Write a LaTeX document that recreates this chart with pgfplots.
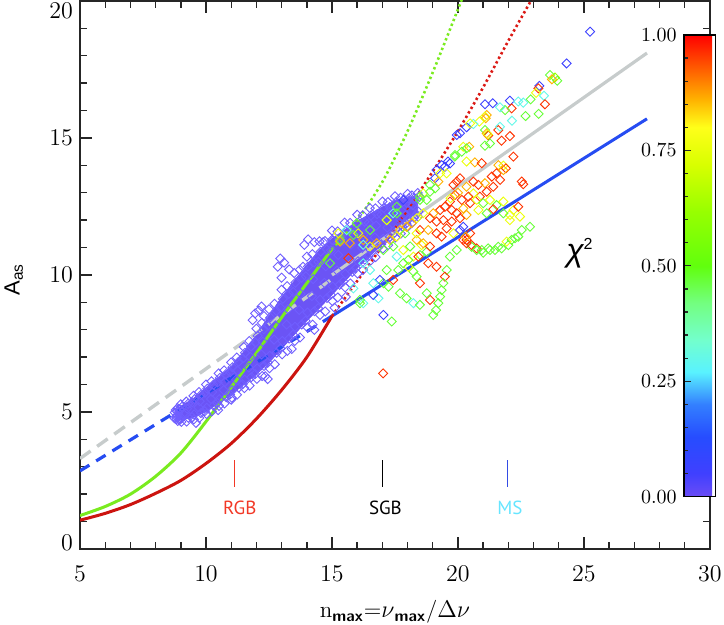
\documentclass[border=0pt]{standalone}
\usepackage{pgfplots}
\pgfplotsset{compat=1.18}
\usepackage{fontspec}
\newfontfamily\labfont{PT Sans}
\newfontfamily\lsans{Liberation Sans}
\usetikzlibrary{calc}
\definecolor{cgrey}{rgb}{0.78,0.80,0.80}
\definecolor{cblue}{rgb}{0.15,0.30,0.95}
\definecolor{cgreen}{rgb}{0.48,0.92,0.12}
\definecolor{cred}{rgb}{0.80,0.08,0.06}
\definecolor{cdred}{rgb}{0.86,0.10,0.08}
\definecolor{cloud}{rgb}{0.42,0.33,0.96}
\definecolor{cloudmk}{rgb}{0.44,0.37,1.00}
\definecolor{rgbcol}{rgb}{0.95,0.22,0.15}
\definecolor{mscol}{rgb}{0.40,0.90,1.00}
\definecolor{msline}{rgb}{0.20,0.30,0.90}
\begin{document}
\begin{tikzpicture}
\begin{axis}[
  width=315pt, height=274pt, scale only axis,
  xmin=5, xmax=30, ymin=0, ymax=20,
  xtick={5,10,...,30}, ytick={0,5,...,20},
  yticklabels={\rule[-6pt]{0pt}{6pt}0,5,10,15,\rule{0pt}{18pt}20},
  minor x tick num=4, minor y tick num=4,
  tick align=inside, major tick length=6pt, minor tick length=3.5pt,
  axis line style={black!85, line width=0.9pt},
  every tick/.style={black!85, line width=0.7pt},
  tick label style={font=\fontsize{12}{13}\selectfont},
  xticklabel style={yshift=-5pt},
  xlabel={n\textsubscript{\sffamily\bfseries max}=$\nu$\textsubscript{\sffamily\bfseries max}/$\Delta\nu$},
  xlabel style={at={(axis description cs:0.5,0)}, anchor=center, yshift=-31.5pt, font=\fontsize{11.5}{13}\selectfont},
  ylabel={\lsans A\textsubscript{as}},
  ylabel style={at={(axis description cs:-0.105,0.492)}, anchor=center, font=\fontsize{11}{13}\selectfont},
  colormap={idl}{rgb(0pt)=(0.42,0.30,0.96); rgb(5pt)=(0.25,0.25,1); rgb(13pt)=(0.15,0.30,1); rgb(20pt)=(0.20,0.50,1); rgb(27pt)=(0.35,0.95,1); rgb(34pt)=(0.45,1,0.80); rgb(42pt)=(0.45,1,0.50); rgb(50pt)=(0.38,1,0.05); rgb(62pt)=(0.60,1,0); rgb(72pt)=(0.85,1,0); rgb(80pt)=(1,1,0.10); rgb(86pt)=(1,0.70,0); rgb(92pt)=(1,0.40,0); rgb(100pt)=(1,0,0)},
  point meta min=0, point meta max=1,
  colorbar,
  colorbar style={
    at={($(parent axis.south west)+(293.35pt,26.15pt)$)}, anchor=south west,
    width=15.8pt, height=230.85pt, scale only axis,
    ytick={0,0.25,0.5,0.75,1},
    minor ytick={0.05,0.1,0.15,0.2,0.3,0.35,0.4,0.45,0.55,0.6,0.65,0.7,0.8,0.85,0.9,0.95},
    yticklabel pos=left, ytick pos=left,
    tick align=inside, major tick length=3.5pt, minor tick length=2pt,
    axis line style={black, line width=0.8pt},
    every tick/.style={black!85, line width=0.6pt},
    yticklabel style={font=\fontsize{10}{12}\selectfont, /pgf/number format/.cd, fixed, fixed zerofill, precision=2},
  },
]
% dense core of the cloud
\addplot[fill=cloud, draw=cloud, line width=0.4pt] coordinates {
(8.8,5.03)(9.0,5.21)(9.5,5.49)(10,5.88)(10.5,6.27)(11,6.66)(11.5,7.2)(12,7.82)(12.5,8.5)(13,9.19)(13.5,9.78)(14,10.37)(14.5,10.91)(15,11.32)(15.5,11.64)(16,11.95)(16.5,12.22)(17,12.48)(17.5,12.7)(18,12.82)(18.4,12.89)
(18.4,12.21)(18,11.88)(17.5,11.5)(17,11.12)(16.5,10.69)(16,10.25)(15.5,9.77)(15,9.28)(14.5,8.79)(14,8.33)(13.5,7.82)(13,7.31)(12.5,6.8)(12,6.38)(11.5,6.0)(11,5.64)(10.5,5.33)(10,5.02)(9.5,4.81)(9.0,4.7)(8.8,4.77)
} -- cycle;
% cloud points
\addplot[only marks, mark=square, mark size=1.6pt, mark options={rotate=45, draw=cloudmk, line width=0.45pt}] table {
x y
8.80 5.07
8.85 5.02
8.76 4.98
8.83 4.81
8.75 4.77
8.82 4.74
8.87 5.14
8.94 5.08
8.90 4.97
8.85 4.86
8.95 4.76
8.88 4.67
9.00 5.28
9.05 5.19
8.96 5.10
9.03 4.77
8.95 4.70
9.02 4.64
9.22 5.38
9.29 5.30
9.25 5.12
9.20 4.95
9.30 4.79
9.23 4.65
9.50 5.59
9.55 5.47
9.46 5.35
9.53 4.91
9.45 4.81
9.52 4.73
9.72 5.73
9.79 5.62
9.75 5.39
9.70 5.17
9.80 4.96
9.73 4.78
10.00 6.00
10.05 5.85
9.96 5.70
10.03 5.15
9.95 5.03
10.02 4.93
10.22 6.12
10.29 5.99
10.25 5.73
10.20 5.47
10.30 5.23
10.23 5.02
10.50 6.41
10.55 6.24
10.46 6.08
10.53 5.47
10.45 5.33
10.52 5.22
10.72 6.52
10.79 6.38
10.75 6.09
10.70 5.80
10.80 5.54
10.73 5.31
11.00 6.81
11.05 6.63
10.96 6.45
11.03 5.79
10.95 5.64
11.02 5.52
11.22 6.99
11.29 6.83
11.25 6.51
11.20 6.18
11.30 5.89
11.23 5.63
11.50 7.37
11.55 7.16
11.46 6.95
11.53 6.18
11.45 6.01
11.52 5.87
11.72 7.59
11.79 7.39
11.75 7.01
11.70 6.62
11.80 6.27
11.73 5.96
12.00 8.04
12.05 7.78
11.96 7.53
12.03 6.59
11.95 6.38
12.02 6.21
12.22 8.25
12.29 8.02
12.25 7.56
12.20 7.10
12.30 6.68
12.23 6.31
12.50 8.75
12.55 8.45
12.46 8.15
12.53 7.05
12.45 6.80
12.52 6.60
12.72 8.95
12.79 8.69
12.75 8.16
12.70 7.64
12.80 7.16
12.73 6.74
13.00 9.46
13.05 9.13
12.96 8.80
13.03 7.59
12.95 7.32
13.02 7.10
13.22 9.59
13.29 9.31
13.25 8.75
13.20 8.19
13.30 7.68
13.23 7.23
13.50 10.07
13.55 9.72
13.46 9.38
13.53 8.11
13.45 7.82
13.52 7.59
13.72 10.19
13.79 9.90
13.75 9.31
13.70 8.72
13.80 8.19
13.73 7.72
14.00 10.67
14.05 10.31
13.96 9.95
14.03 8.63
13.95 8.33
14.02 8.09
14.22 10.76
14.29 10.46
14.25 9.85
14.20 9.23
14.30 8.68
14.23 8.19
14.50 11.23
14.55 10.85
14.46 10.48
14.53 9.10
14.45 8.79
14.52 8.54
14.72 11.24
14.79 10.93
14.75 10.32
14.70 9.71
14.80 9.16
14.73 8.67
15.00 11.62
15.05 11.26
14.96 10.90
15.03 9.58
14.95 9.28
15.02 9.04
15.22 11.59
15.29 11.31
15.25 10.73
15.20 10.16
15.30 9.64
15.23 9.18
15.50 11.91
15.55 11.58
15.46 11.25
15.53 10.04
15.45 9.77
15.52 9.55
15.72 11.90
15.79 11.64
15.75 11.11
15.70 10.59
15.80 10.11
15.73 9.69
16.00 12.20
16.05 11.90
15.96 11.60
16.03 10.50
15.95 10.25
16.02 10.05
16.22 12.18
16.29 11.94
16.25 11.47
16.20 10.99
16.30 10.56
16.23 10.18
16.50 12.44
16.55 12.17
16.46 11.90
16.53 10.91
16.45 10.69
16.52 10.51
16.72 12.43
16.79 12.22
16.75 11.80
16.70 11.37
16.80 10.99
16.73 10.65
17.00 12.68
17.05 12.44
16.96 12.20
17.03 11.32
16.95 11.12
17.02 10.96
17.22 12.66
17.29 12.48
17.25 12.10
17.20 11.73
17.30 11.39
17.23 11.09
17.50 12.87
17.55 12.66
17.46 12.45
17.53 11.68
17.45 11.51
17.52 11.37
17.72 12.82
17.79 12.66
17.75 12.35
17.70 12.04
17.80 11.76
17.73 11.51
18.00 12.96
18.05 12.79
17.96 12.63
18.03 12.02
17.95 11.88
18.02 11.77
18.17 12.90
18.24 12.78
18.20 12.55
18.15 12.31
18.25 12.09
18.18 11.90
18.40 12.99
18.45 12.87
18.36 12.75
18.43 12.31
18.35 12.21
18.42 12.13
11.85 8.35
11.95 8.60
12.10 8.70
12.30 8.50
12.20 8.85
12.85 10.30
12.95 10.60
13.10 10.45
13.00 9.90
13.30 10.20
13.85 10.30
13.90 11.10
14.05 11.30
14.30 11.20
14.65 11.20
15.00 11.28
9.60 4.60
10.48 5.07
11.00 5.45
12.35 6.30
12.45 6.20
13.40 7.30
14.30 8.00
15.10 8.80
15.55 9.20
};
% colour-coded points
\addplot[scatter, only marks, scatter src=explicit, mark=square, mark size=1.6pt,
  mark options={rotate=45, line width=0.45pt},
  scatter/use mapped color={draw=mapped color, fill=none}] table[meta=c] {
x y c
24.31 17.72 0.06
25.24 18.88 0.06
23.65 17.30 0.47
23.85 17.21 0.62
23.94 17.09 0.47
23.73 17.14 0.86
23.23 16.90 0.06
23.19 16.81 0.96
23.10 16.65 0.76
23.41 16.54 0.30
22.88 16.41 0.47
23.45 16.23 0.96
23.20 15.88 0.47
22.68 15.80 0.47
22.06 16.36 0.06
22.39 16.33 0.30
22.59 16.29 0.30
22.13 16.08 0.96
21.87 16.02 0.47
21.67 16.12 0.30
21.38 16.27 0.06
21.07 16.23 0.06
22.14 15.63 0.30
21.14 15.84 0.86
21.07 15.78 0.76
21.10 15.72 0.86
20.85 15.60 0.76
20.61 15.51 0.30
20.34 15.39 0.06
20.08 15.17 0.06
21.07 15.29 0.47
21.14 15.17 0.86
21.20 15.09 0.96
21.18 15.13 0.76
21.60 15.29 0.96
22.06 15.07 0.96
21.73 14.90 0.96
21.27 14.80 0.47
21.07 14.72 0.47
20.45 14.68 0.86
20.21 14.68 0.76
19.88 14.32 0.47
20.34 14.14 0.76
20.67 14.11 0.86
20.94 14.08 0.96
21.60 14.01 0.86
21.80 13.99 0.76
22.20 14.32 0.96
21.90 13.89 0.96
22.53 13.41 0.96
22.59 13.31 0.96
19.68 14.07 0.06
19.48 13.95 0.06
19.55 13.71 0.76
19.09 13.53 0.06
19.22 13.41 0.86
18.89 13.29 0.47
18.62 12.98 0.76
18.49 12.74 0.47
18.76 12.74 0.47
19.09 13.16 0.47
19.95 13.41 0.96
20.08 13.53 0.96
19.82 13.29 0.96
20.34 13.22 0.86
20.61 13.41 0.96
20.81 13.29 0.96
21.07 13.35 0.86
21.34 13.59 0.96
21.53 13.71 0.96
21.80 13.83 0.86
21.40 13.22 0.96
21.14 13.04 0.96
21.67 13.47 0.96
20.87 12.86 0.96
20.61 12.98 0.76
20.41 12.86 0.96
20.15 12.74 0.96
19.88 12.92 0.96
19.68 12.68 0.96
19.48 12.49 0.96
19.29 12.37 0.96
19.75 12.37 0.96
19.95 12.25 0.96
20.21 12.43 0.86
20.48 12.62 0.96
20.74 12.74 0.76
21.00 12.62 0.47
21.27 12.74 0.76
21.53 12.55 0.47
21.80 12.68 0.76
21.40 12.40 0.96
22.20 12.37 0.76
22.39 12.49 0.96
22.06 12.19 0.76
21.80 12.25 0.47
21.14 12.25 0.47
20.81 12.37 0.76
20.34 12.19 0.86
20.08 12.07 0.96
19.75 11.95 0.96
19.42 12.00 0.96
19.15 11.95 0.96
19.02 12.25 0.86
18.89 12.07 0.96
18.62 12.25 0.76
18.36 12.07 0.76
18.16 11.89 0.86
18.49 11.64 0.96
18.82 11.64 0.86
19.15 11.52 0.96
19.55 11.70 0.96
19.35 11.40 0.96
19.82 11.52 0.76
20.08 11.64 0.06
20.21 11.76 0.06
20.34 11.28 0.96
20.54 11.09 0.96
20.74 10.97 0.96
20.94 10.91 0.47
21.20 10.97 0.47
21.47 10.91 0.47
21.73 10.97 0.47
22.00 11.09 0.47
22.13 11.28 0.47
22.39 11.40 0.47
22.53 11.64 0.47
22.86 11.76 0.47
22.06 12.00 0.76
22.46 12.13 0.76
17.70 11.64 0.86
17.90 11.52 0.47
17.57 11.40 0.76
17.30 11.28 0.86
17.43 11.04 0.47
17.83 10.91 0.76
18.10 11.04 0.47
18.36 11.28 0.86
18.56 11.09 0.76
18.76 10.85 0.47
18.49 10.73 0.47
18.23 10.67 0.76
18.89 11.04 0.96
17.04 10.91 0.47
16.77 11.16 0.86
16.51 11.04 0.76
16.24 11.28 0.86
16.04 11.52 0.76
15.85 11.46 0.47
15.32 11.28 0.47
15.25 11.52 0.76
15.58 11.64 0.30
15.98 11.89 0.47
17.17 12.01 0.47
17.43 12.25 0.30
17.57 12.49 0.47
17.83 12.74 0.06
18.49 12.86 0.47
18.89 13.04 0.47
19.15 13.83 0.06
19.35 14.01 0.06
19.60 14.14 0.06
19.88 14.38 0.47
20.15 14.50 0.47
20.34 14.62 0.47
19.29 13.71 0.76
19.95 15.11 0.06
20.48 15.53 0.76
21.67 15.41 0.30
22.26 11.34 0.47
21.93 11.22 0.76
21.60 11.03 0.47
21.27 10.91 0.47
21.00 10.81 0.47
20.74 10.91 0.47
20.54 11.03 0.47
20.34 11.16 0.96
20.21 11.28 0.96
19.95 10.91 0.47
19.68 10.67 0.47
19.55 10.18 0.47
19.48 9.94 0.96
19.42 9.70 0.47
19.35 9.45 0.47
19.29 9.21 0.47
19.22 8.97 0.47
19.13 8.72 0.47
19.02 8.54 0.47
18.89 9.09 0.96
18.76 9.33 0.47
18.49 9.70 0.96
18.36 9.94 0.47
18.23 10.12 0.47
18.03 10.30 0.76
17.83 10.43 0.47
17.63 10.18 0.47
17.43 9.82 0.96
17.24 9.57 0.47
17.04 9.70 0.47
16.84 9.15 0.30
16.64 9.27 0.06
16.90 9.82 0.06
17.57 10.67 0.30
18.03 10.55 0.47
18.43 10.67 0.96
18.82 10.43 0.96
19.15 10.30 0.96
17.96 9.15 0.47
18.23 8.97 0.30
18.49 8.91 0.47
17.70 9.33 0.47
17.04 8.54 0.06
17.37 8.30 0.47
16.11 8.97 0.47
15.85 9.51 0.30
16.51 10.18 0.30
16.24 10.43 0.30
17.03 6.41 0.96
15.71 11.16 0.86
15.32 11.22 0.86
15.65 10.61 0.96
14.92 10.43 0.47
16.24 11.10 0.30
16.51 11.64 0.47
17.17 12.00 0.76
17.57 12.25 0.47
17.96 11.76 0.86
18.36 11.52 0.76
18.62 11.16 0.86
16.64 9.70 0.30
17.17 10.18 0.47
16.24 8.97 0.30
16.11 9.09 0.47
20.48 11.52 0.96
20.30 11.40 0.86
19.70 12.80 0.76
20.00 13.00 0.86
};
% grey relation
\addplot[cgrey, line width=1.7pt, dash pattern=on 6.5pt off 4pt] coordinates {(5,3.3)(15,9.85)};
\addplot[cgrey, line width=1.6pt] coordinates {(15,10.0)(27.5,18.1)};
% blue relation
\addplot[cblue, line width=1.6pt, dash pattern=on 5.5pt off 4pt] coordinates {(5,2.85)(15,8.5)};
\addplot[cblue, line width=1.5pt] coordinates {(15,8.5)(27.5,15.7)};
% green relation
\addplot[cgreen, line width=1.5pt, smooth] coordinates {(5,1.22)(6,1.55)(7,2.0)(8,2.65)(9,3.5)(10,4.65)(11,5.9)(12,7.15)(13,8.45)(14,9.7)(15,10.95)};
\addplot[cgreen, line width=1.3pt, dash pattern=on 1.2pt off 1.4pt, smooth] coordinates {(15,10.95)(16,12.0)(17,13.4)(18,15.25)(19,17.4)(20,19.7)(20.15,20.05)};
% red relation
\addplot[cred, line width=1.5pt, smooth] coordinates {(5,1.05)(6,1.3)(7,1.62)(8,2.03)(9,2.5)(10,3.12)(11,3.85)(12,4.75)(13,5.8)(14,7.0)(15,8.5)};
\addplot[cdred, line width=1.3pt, dash pattern=on 1.2pt off 1.4pt, smooth] coordinates {(15,8.5)(16,9.78)(17,11.06)(18,12.38)(19,13.78)(20,15.25)(21,16.85)(22,18.55)(22.92,20.05)};
% evolutionary-stage markers
\addplot[rgbcol, line width=0.6pt] coordinates {(11.14,2.27)(11.14,3.25)};
\addplot[black, line width=0.6pt] coordinates {(17.0,2.27)(17.0,3.25)};
\addplot[msline, line width=0.6pt] coordinates {(21.96,2.27)(21.96,3.25)};
\node[rgbcol, font=\labfont\fontsize{9.5}{11}\selectfont] at (axis cs:11.34,1.49) {RGB};
\node[black, font=\labfont\fontsize{9.5}{11}\selectfont] at (axis cs:17.12,1.49) {SGB};
\node[mscol, font=\labfont\fontsize{9.5}{11}\selectfont] at (axis cs:22.06,1.49) {MS};
\node[font=\lsans\fontsize{16}{18}\selectfont] at (axis cs:24.84,10.8) {\itshape χ\textsuperscript{\upshape\fontsize{8}{9}\selectfont 2}};
\coordinate (BL) at (axis cs:1.825,-2.774);
\coordinate (TR) at (axis cs:30.556,20.036);
\end{axis}
\pgfresetboundingbox
\path (BL) rectangle (TR);
\end{tikzpicture}
\end{document}
